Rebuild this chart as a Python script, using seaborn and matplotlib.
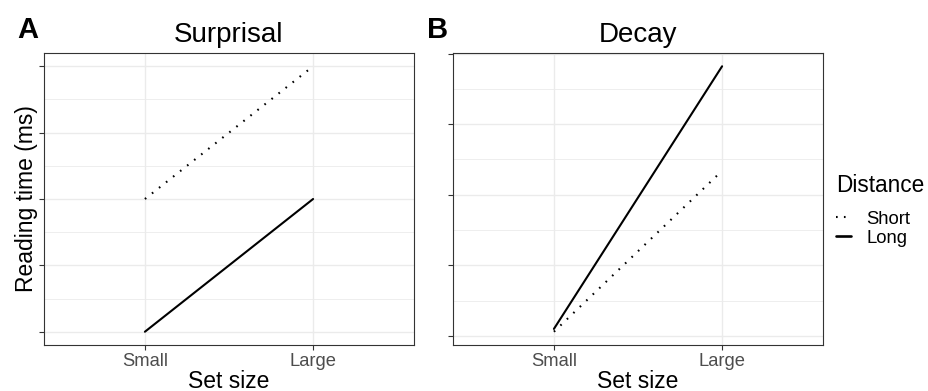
import matplotlib
matplotlib.use("Agg")
import matplotlib.pyplot as plt
from matplotlib.lines import Line2D
from matplotlib.ticker import MultipleLocator, NullFormatter
import seaborn as sns
import pandas as pd

# ---- data ----
set_size = ["Small", "Large"]
distance_levels = ["Short", "Long"]
surprisal_short = [400, 500]
surprisal_long = [300, 400]
decay_short = [303, 417]
decay_long = [305, 491]
panel_titles = ["Surprisal", "Decay"]
panel_tags = ["A", "B"]

def make_df(short, long_):
    return pd.DataFrame({
        "set_size": set_size * 2,
        "rt": list(short) + list(long_),
        "Distance": ["Short"] * len(set_size) + ["Long"] * len(set_size),
    })

dfs = [make_df(surprisal_short, surprisal_long), make_df(decay_short, decay_long)]

sns.set_theme(style="white")
plt.rcParams["font.family"] = ["Liberation Sans", "DejaVu Sans"]
plt.rcParams["text.color"] = "black"
plt.rcParams["axes.labelcolor"] = "black"

W, H = 929, 391
fig = plt.figure(figsize=(W / 100, H / 100), dpi=100)

grid_col = "#EBEBEB"
border_col = "#333333"
axes_px = [(44, 53, 414, 345), (453, 53, 823, 345)]
dash_map = {"Short": (0.8, 3.5), "Long": ""}

for i, (df, (l, t, r, b)) in enumerate(zip(dfs, axes_px)):
    ax = fig.add_axes([l / W, 1 - b / H, (r - l) / W, (b - t) / H])
    sns.lineplot(data=df, x="set_size", y="rt", style="Distance",
                 style_order=distance_levels, dashes=dash_map,
                 color="black", linewidth=1.5, ax=ax, legend=False,
                 sort=False, estimator=None)
    lo, hi = df["rt"].min(), df["rt"].max()
    rng = hi - lo
    ax.set_ylim(lo - 0.05 * rng, hi + 0.05 * rng)
    ax.set_xlim(-0.6, 1.6)
    ax.yaxis.set_major_locator(MultipleLocator(50))
    ax.yaxis.set_minor_locator(MultipleLocator(25))
    ax.yaxis.set_major_formatter(NullFormatter())
    ax.yaxis.set_minor_formatter(NullFormatter())
    ax.set_xticks([0, 1])
    ax.set_xticklabels(set_size)
    ax.grid(True, which="major", color=grid_col, linewidth=1.0)
    ax.grid(True, which="minor", axis="y", color=grid_col, linewidth=0.6)
    ax.set_axisbelow(True)
    ax.tick_params(axis="both", which="major", length=3.5, width=0.8,
                   color=border_col, direction="out", bottom=True, left=True)
    ax.tick_params(axis="y", which="minor", length=0)
    ax.tick_params(axis="x", labelsize=13.2, labelcolor="#4D4D4D", pad=2)
    for s in ax.spines.values():
        s.set_color(border_col)
        s.set_linewidth(0.8)
    ax.set_title(panel_titles[i], fontsize=20, pad=8)
    ax.set_xlabel("Set size", fontsize=16.5, labelpad=0.5)
    if i == 0:
        ax.set_ylabel("Reading time (ms)", fontsize=16.5)
        ax.yaxis.set_label_coords((38 - l) / (r - l), 0.5)
    else:
        ax.set_ylabel("")
    fig.text((17 if i == 0 else 427) / W, 1 - 38 / H, panel_tags[i],
             fontsize=21, fontweight="bold", ha="left", va="baseline")

handles = [
    Line2D([], [], color="black", linewidth=1.5, linestyle=(0, (0.8, 3.0))),
    Line2D([], [], color="black", linewidth=1.9, linestyle="-"),
]
leg = fig.legend(handles, distance_levels, title="Distance",
                 loc="upper left", bbox_to_anchor=(836 / W, 1 - 174 / H),
                 frameon=False, borderpad=0, borderaxespad=0, fontsize=13.3,
                 title_fontsize=16.3, handlelength=0.8, handletextpad=0.85,
                 labelspacing=0.1, alignment="left")
leg._legend_box.sep = 10

fig.savefig("out.png", dpi=100)
